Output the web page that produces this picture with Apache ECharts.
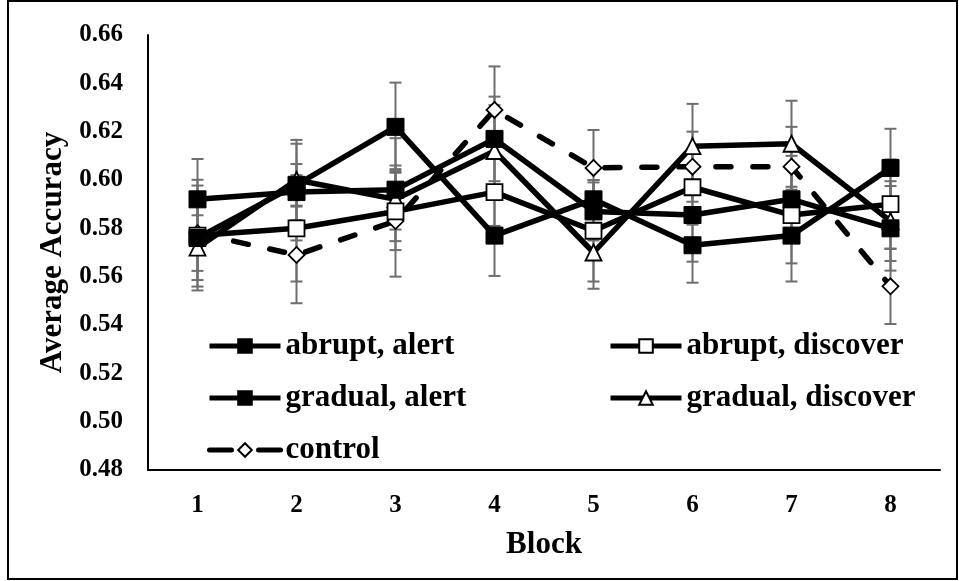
<!DOCTYPE html>
<html>
<head>
<meta charset="utf-8">
<script src="https://cdn.jsdelivr.net/npm/echarts@6/dist/echarts.min.js"></script>
<style>
  html, body { margin: 0; padding: 0; background: #fff; }
  #chart { width: 959px; height: 581px; }
</style>
</head>
<body>
<div id="chart"></div>
<script>
// Block numbers along the x axis
const blocks = ['1', '2', '3', '4', '5', '6', '7', '8'];

// Y axis ticks
const yMin = 0.48;
const yMax = 0.66;
const yStep = 0.02;

// Mean accuracy per block, one array per condition
const abruptAlert     = [0.592, 0.595, 0.596, 0.617, 0.587, 0.5855, 0.592, 0.580];
const abruptDiscover  = [0.577, 0.580, 0.587, 0.595, 0.579, 0.597, 0.5855, 0.590];
const gradualAlert    = [0.576, 0.598, 0.622, 0.577, 0.592, 0.573, 0.577, 0.605];
const gradualDiscover = [0.572, 0.600, 0.592, 0.612, 0.570, 0.614, 0.615, 0.583];
const control         = [0.578, 0.569, 0.583, 0.629, 0.605, 0.6055, 0.6055, 0.556];

// Half-widths of the error bars
const abruptAlertErr     = [0.0167, 0.020, 0.0213, 0.0175, 0.012, 0.0193, 0.018, 0.0175];
const abruptDiscoverErr  = [0.0146, 0.022, 0.016, 0.014, 0.021, 0.0155, 0.020, 0.0185];
const gradualAlertErr    = [0.0217, 0.0086, 0.0183, 0.0167, 0.008, 0.0155, 0.019, 0.0162];
const gradualDiscoverErr = [0.0134, 0.0166, 0.0125, 0.019, 0.015, 0.0175, 0.0178, 0.0165];
const controlErr         = [0.0221, 0.020, 0.023, 0.018, 0.0157, 0.0145, 0.0165, 0.0156];

const FONT = '"Liberation Serif", "Times New Roman", serif';

function errData(vals, errs) {
  return vals.map((v, i) => [i, v - errs[i], v + errs[i]]);
}

// Vertical whisker with a cap at both ends
function renderErr(params, api) {
  const x = api.value(0);
  const lo = api.coord([x, api.value(1)]);
  const hi = api.coord([x, api.value(2)]);
  const w = 6;
  const st = { stroke: '#6e6e6e', lineWidth: 2 };
  return {
    type: 'group',
    children: [
      { type: 'line', shape: { x1: lo[0], y1: lo[1], x2: hi[0], y2: hi[1] }, style: st },
      { type: 'line', shape: { x1: lo[0] - w, y1: lo[1], x2: lo[0] + w, y2: lo[1] }, style: st },
      { type: 'line', shape: { x1: hi[0] - w, y1: hi[1], x2: hi[0] + w, y2: hi[1] }, style: st }
    ]
  };
}

function errSeries(vals, errs) {
  return {
    type: 'custom',
    renderItem: renderErr,
    data: errData(vals, errs),
    encode: { x: 0, y: [1, 2] },
    z: 1,
    silent: true
  };
}

function lineSeries(name, vals, symbol, size, filled, dashed) {
  return {
    name: name,
    type: 'line',
    data: vals,
    symbol: symbol,
    symbolSize: size,
    showAllSymbol: true,
    z: 3,
    lineStyle: {
      color: '#000',
      width: 5.5,
      type: dashed ? [15, 22] : 'solid',
      cap: dashed ? 'round' : 'butt',
      join: 'round'
    },
    itemStyle: {
      color: filled ? '#000' : '#fff',
      borderColor: '#000',
      borderWidth: filled ? 1 : 1.8
    }
  };
}

const legendText = {
  fontFamily: FONT,
  fontWeight: 'bold',
  fontSize: 31,
  color: '#000',
  lineHeight: 32
};

const legendBase = {
  orient: 'vertical',
  top: 325,
  itemWidth: 71,
  itemHeight: 17,
  itemGap: 20,
  lineStyle: { width: 5 },
  textStyle: legendText,
  selectedMode: false
};

const chart = echarts.init(document.getElementById('chart'), null, { renderer: 'canvas' });

chart.setOption({
  animation: false,
  backgroundColor: '#fff',
  grid: { left: 148, right: 19, top: 35, bottom: 111 },
  legend: [
    Object.assign({}, legendBase, {
      left: 202,
      data: [
        'abrupt, alert',
        'gradual, alert',
        { name: 'control', lineStyle: { type: [22, 27], width: 5, cap: 'round' } }
      ]
    }),
    Object.assign({}, legendBase, {
      left: 603,
      data: ['abrupt, discover', 'gradual, discover']
    })
  ],
  xAxis: {
    type: 'category',
    data: blocks,
    boundaryGap: true,
    name: 'Block',
    nameLocation: 'middle',
    nameGap: 59,
    nameTextStyle: { fontFamily: FONT, fontWeight: 'bold', fontSize: 31, color: '#000' },
    axisLine: { lineStyle: { color: '#000', width: 2 } },
    axisTick: { show: false },
    axisLabel: { fontFamily: FONT, fontWeight: 'bold', fontSize: 25, color: '#000', margin: 23 },
    splitLine: { show: false }
  },
  yAxis: {
    type: 'value',
    min: yMin,
    max: yMax,
    interval: yStep,
    name: 'Average Accuracy',
    nameLocation: 'middle',
    nameGap: 72,
    nameTextStyle: { fontFamily: FONT, fontWeight: 'bold', fontSize: 31, color: '#000' },
    axisLine: { show: true, lineStyle: { color: '#000', width: 2 } },
    axisTick: { show: false },
    axisLabel: {
      fontFamily: FONT, fontWeight: 'bold', fontSize: 25, color: '#000', margin: 25,
      formatter: v => v.toFixed(2)
    },
    splitLine: { show: false }
  },
  graphic: [
    {
      type: 'rect',
      shape: { x: 8, y: 1, width: 949, height: 578 },
      style: { fill: 'none', stroke: '#000', lineWidth: 2 },
      silent: true,
      z: 0
    }
  ],
  series: [
    errSeries(abruptAlert, abruptAlertErr),
    errSeries(abruptDiscover, abruptDiscoverErr),
    errSeries(gradualAlert, gradualAlertErr),
    errSeries(gradualDiscover, gradualDiscoverErr),
    errSeries(control, controlErr),
    lineSeries('control', control, 'diamond', 16, false, true),
    lineSeries('gradual, discover', gradualDiscover, 'triangle', 16, false, false),
    lineSeries('abrupt, discover', abruptDiscover, 'rect', 16, false, false),
    lineSeries('gradual, alert', gradualAlert, 'rect', 17, true, false),
    lineSeries('abrupt, alert', abruptAlert, 'rect', 17, true, false)
  ]
});
</script>
</body>
</html>
